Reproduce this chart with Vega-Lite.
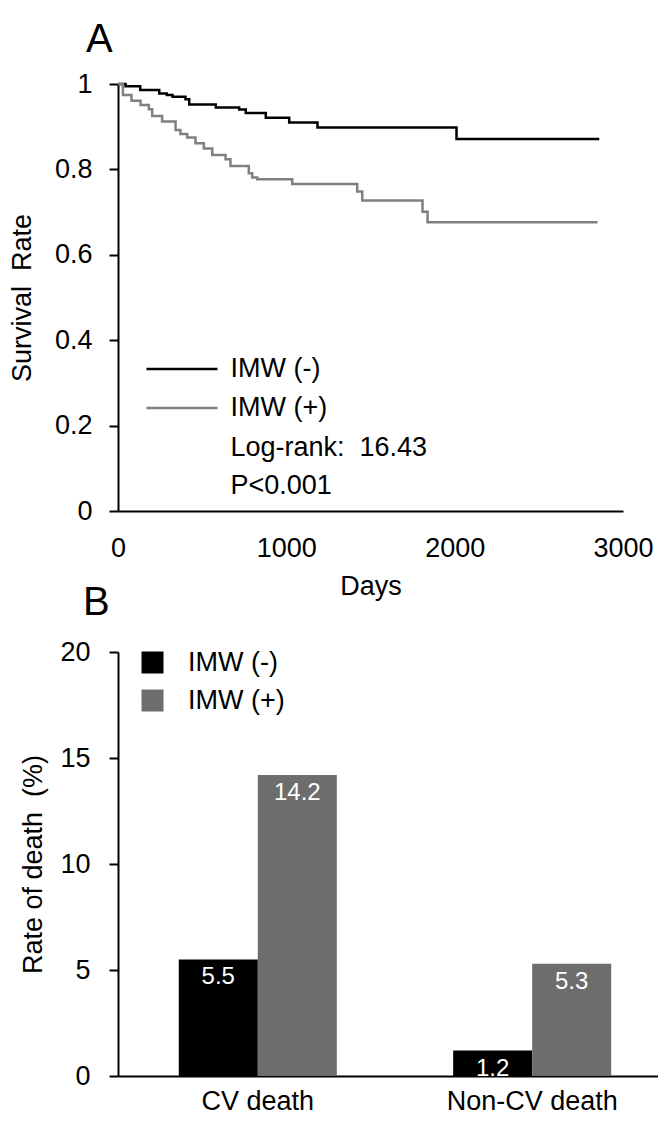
{
  "$schema": "https://vega.github.io/schema/vega-lite/v6.json",
  "background": "white",
  "padding": {"left": 8, "top": 20, "right": 0, "bottom": 0},
  "spacing": -16,
  "config": {
    "font": "Liberation Sans",
    "view": {"stroke": null},
    "axis": {
      "domainColor": "black", "domainWidth": 2, "tickColor": "black", "tickWidth": 2, "tickSize": 9,
      "labelColor": "black", "titleColor": "black", "labelFontSize": 27, "titleFontSize": 27,
      "titleFontWeight": "normal", "grid": false, "labelFont": "Liberation Sans", "titleFont": "Liberation Sans",
      "labelFlush": false, "labelOverlap": false
    },
    "legend": {"labelFont": "Liberation Sans", "labelColor": "black", "labelFontSize": 27},
    "title": {"fontSize": 40, "fontWeight": "normal", "anchor": "start", "frame": "group", "color": "black", "font": "Liberation Sans"}
  },
  "resolve": {"scale": {"color": "independent"}, "legend": {"color": "independent"}},
  "vconcat": [
    {
      "width": 505,
      "height": 427,
      "title": {"text": "A", "dx": -32, "offset": 10},
      "layer": [
        {
          "data": {"values": [
            {"group": "IMW (-)", "day": 0, "survival": 1.0},
            {"group": "IMW (-)", "day": 45, "survival": 0.995},
            {"group": "IMW (-)", "day": 132, "survival": 0.986},
            {"group": "IMW (-)", "day": 245, "survival": 0.978},
            {"group": "IMW (-)", "day": 290, "survival": 0.974},
            {"group": "IMW (-)", "day": 324, "survival": 0.970},
            {"group": "IMW (-)", "day": 401, "survival": 0.964},
            {"group": "IMW (-)", "day": 423, "survival": 0.952},
            {"group": "IMW (-)", "day": 581, "survival": 0.945},
            {"group": "IMW (-)", "day": 720, "survival": 0.940},
            {"group": "IMW (-)", "day": 759, "survival": 0.932},
            {"group": "IMW (-)", "day": 878, "survival": 0.921},
            {"group": "IMW (-)", "day": 1017, "survival": 0.910},
            {"group": "IMW (-)", "day": 1185, "survival": 0.898},
            {"group": "IMW (-)", "day": 2011, "survival": 0.871},
            {"group": "IMW (-)", "day": 2859, "survival": 0.871},
            {"group": "IMW (+)", "day": 0, "survival": 1.0},
            {"group": "IMW (+)", "day": 29, "survival": 0.974},
            {"group": "IMW (+)", "day": 80, "survival": 0.961},
            {"group": "IMW (+)", "day": 134, "survival": 0.951},
            {"group": "IMW (+)", "day": 183, "survival": 0.941},
            {"group": "IMW (+)", "day": 203, "survival": 0.925},
            {"group": "IMW (+)", "day": 262, "survival": 0.912},
            {"group": "IMW (+)", "day": 342, "survival": 0.892},
            {"group": "IMW (+)", "day": 371, "survival": 0.883},
            {"group": "IMW (+)", "day": 411, "survival": 0.875},
            {"group": "IMW (+)", "day": 460, "survival": 0.861},
            {"group": "IMW (+)", "day": 510, "survival": 0.849},
            {"group": "IMW (+)", "day": 560, "survival": 0.834},
            {"group": "IMW (+)", "day": 639, "survival": 0.824},
            {"group": "IMW (+)", "day": 668, "survival": 0.808},
            {"group": "IMW (+)", "day": 777, "survival": 0.791},
            {"group": "IMW (+)", "day": 797, "survival": 0.781},
            {"group": "IMW (+)", "day": 827, "survival": 0.777},
            {"group": "IMW (+)", "day": 1035, "survival": 0.766},
            {"group": "IMW (+)", "day": 1421, "survival": 0.748},
            {"group": "IMW (+)", "day": 1451, "survival": 0.727},
            {"group": "IMW (+)", "day": 1809, "survival": 0.701},
            {"group": "IMW (+)", "day": 1839, "survival": 0.676},
            {"group": "IMW (+)", "day": 2849, "survival": 0.676}
          ]},
          "mark": {"type": "line", "interpolate": "step-after", "strokeWidth": 2.5},
          "encoding": {
            "x": {"field": "day", "type": "quantitative", "scale": {"domain": [0, 3000]},
                  "axis": {"values": [0, 1000, 2000, 3000], "format": "d", "ticks": false, "labelPadding": 24, "title": "Days", "titlePadding": 12}},
            "y": {"field": "survival", "type": "quantitative", "scale": {"domain": [0, 1]},
                  "axis": {"values": [0, 0.2, 0.4, 0.6, 0.8, 1], "format": "~g", "labelPadding": 17, "title": "Survival \u00a0Rate", "titlePadding": 18}},
            "color": {"field": "group", "type": "nominal",
                      "scale": {"domain": ["IMW (-)", "IMW (+)"], "range": ["#000000", "#808080"]},
                      "legend": null}
          }
        },
        {
          "data": {"values": [{"group": "IMW (-)"}]},
          "mark": {"type": "rule", "color": "#000000", "strokeWidth": 2.5},
          "encoding": {"x": {"datum": 169}, "x2": {"datum": 591}, "y": {"datum": 0.3326}}
        },
        {
          "data": {"values": [{"group": "IMW (+)"}]},
          "mark": {"type": "rule", "color": "#808080", "strokeWidth": 2.5},
          "encoding": {"x": {"datum": 169}, "x2": {"datum": 591}, "y": {"datum": 0.2412}}
        },
        {
          "data": {"values": [{"note": "IMW (-)"}]},
          "mark": {"type": "text", "align": "left", "baseline": "middle", "fontSize": 27, "color": "black"},
          "encoding": {"x": {"datum": 668}, "y": {"datum": 0.3326}, "text": {"field": "note"}}
        },
        {
          "data": {"values": [{"note": "IMW (+)"}]},
          "mark": {"type": "text", "align": "left", "baseline": "middle", "fontSize": 27, "color": "black"},
          "encoding": {"x": {"datum": 668}, "y": {"datum": 0.2412}, "text": {"field": "note"}}
        },
        {
          "data": {"values": [{"note": "Log-rank: \u00a016.43"}]},
          "mark": {"type": "text", "align": "left", "baseline": "middle", "fontSize": 27, "color": "black"},
          "encoding": {"x": {"datum": 668}, "y": {"datum": 0.1475}, "text": {"field": "note"}}
        },
        {
          "data": {"values": [{"note": "P<0.001"}]},
          "mark": {"type": "text", "align": "left", "baseline": "middle", "fontSize": 27, "color": "black"},
          "encoding": {"x": {"datum": 668}, "y": {"datum": 0.0585}, "text": {"field": "note"}}
        }
      ]
    },
    {
      "width": 540,
      "height": 424,
      "title": {"text": "B", "dx": -35, "offset": 15},
      "data": {"values": [
        {"cause": "CV death", "group": "IMW (-)", "rate": 5.5},
        {"cause": "CV death", "group": "IMW (+)", "rate": 14.2},
        {"cause": "Non-CV death", "group": "IMW (-)", "rate": 1.2},
        {"cause": "Non-CV death", "group": "IMW (+)", "rate": 5.3}
      ]},
      "encoding": {
        "x": {"field": "cause", "type": "nominal", "sort": null,
              "scale": {"paddingInner": 0.424, "paddingOuter": 0.196, "align": 0.565},
              "axis": {"labelAngle": 0, "ticks": false, "title": null, "labelPadding": 12}},
        "xOffset": {"field": "group", "type": "nominal", "sort": ["IMW (-)", "IMW (+)"], "scale": {"paddingInner": 0, "paddingOuter": 0}},
        "y": {"field": "rate", "type": "quantitative", "scale": {"domain": [0, 20]},
              "axis": {"values": [0, 5, 10, 15, 20], "labelPadding": 19, "title": "Rate of death \u00a0(%)", "titlePadding": 12}}
      },
      "layer": [
        {
          "mark": {"type": "bar"},
          "encoding": {
            "color": {"field": "group", "type": "nominal",
                      "scale": {"domain": ["IMW (-)", "IMW (+)"], "range": ["#000000", "#6d6d6d"]},
                      "legend": {"orient": "none", "legendX": 21, "legendY": -3, "title": null, "symbolType": "square",
                                 "symbolSize": 484, "symbolStrokeWidth": 0, "symbolOpacity": 1, "labelOffset": 22, "rowPadding": 10}}
          }
        },
        {
          "mark": {"type": "text", "color": "white", "baseline": "top", "dy": 6, "fontSize": 24},
          "encoding": {"text": {"field": "rate", "type": "quantitative", "format": ".1f"}}
        }
      ]
    }
  ]
}
